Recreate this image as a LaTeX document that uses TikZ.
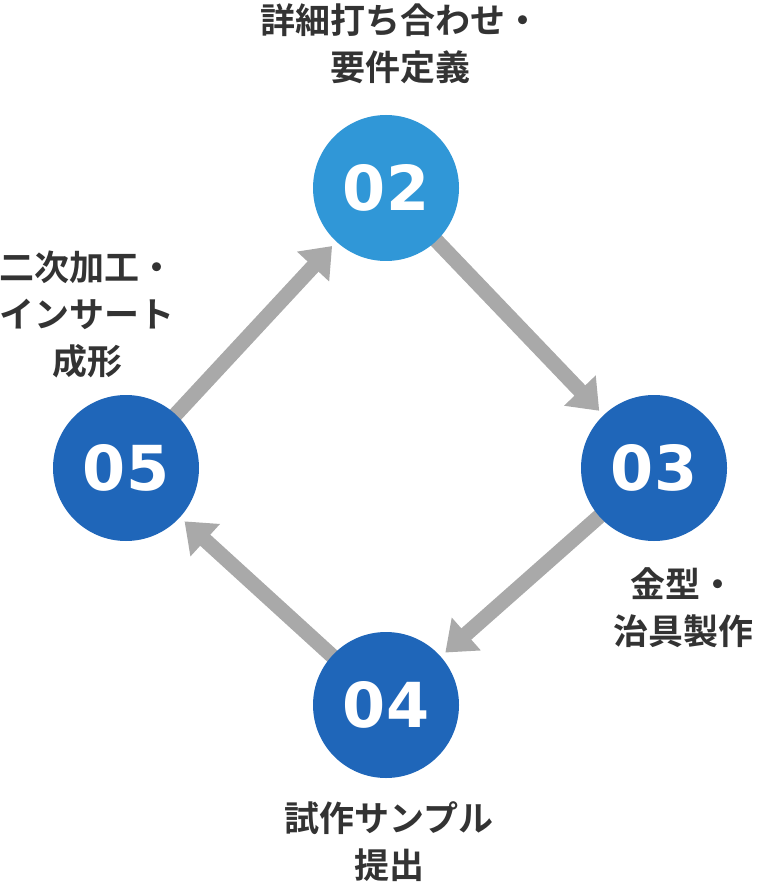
\documentclass[tikz,border=0pt]{standalone}
\usepackage{fontspec}
\usetikzlibrary{arrows.meta}
\newfontfamily\jp{Noto Sans CJK JP}[BoldFont={Noto Sans CJK JP Bold}]
\newfontfamily\numfont{DejaVu Sans}
\definecolor{blueA}{HTML}{3097D7}
\definecolor{blueB}{HTML}{1F66B9}
\definecolor{arrgray}{HTML}{A9A9A9}
\definecolor{txt}{HTML}{333333}
\pgfdeclarelayer{bg}
\pgfsetlayers{bg,main}
\begin{document}
\begin{tikzpicture}[x=1pt,y=-1pt,
  circ/.style={circle, minimum size=146pt, inner sep=0pt, fill=#1, text=white,
    font=\numfont\bfseries\fontsize{62}{62}\selectfont},
  lbl/.style={align=center, text=txt, inner sep=0pt,
    font=\jp\bfseries\fontsize{35}{47}\selectfont},
  arr/.style={line width=15pt, draw=arrgray,
    -{Triangle[length=28pt,width=42pt]}, shorten >=6pt, shorten <=-14pt}]
\useasboundingbox (0,0) rectangle (756,882);
\node[circ=blueA] (n02) at (386,188) {02};
\node[circ=blueB] (n03) at (654,468) {03};
\node[circ=blueB] (n04) at (386,705) {04};
\node[circ=blueB] (n05) at (126,468) {05};
\begin{pgfonlayer}{bg}
\draw[arr] (n02) -- (n03);
\draw[arr] (n03) -- (n04);
\draw[arr] (n04) -- (n05);
\draw[arr] (n05) -- (n02);
\end{pgfonlayer}
\node[lbl] (t02) at (400,44) {詳細打ち合わせ・\\要件定義};
\node[lbl] (t03) at (683,608) {金型・\\治具製作};
\node[lbl] (t04) at (389,842) {試作サンプル\\提出};
\node[lbl] (t05) at (87,314) {二次加工・\\インサート\\成形};
\end{tikzpicture}
\end{document}
